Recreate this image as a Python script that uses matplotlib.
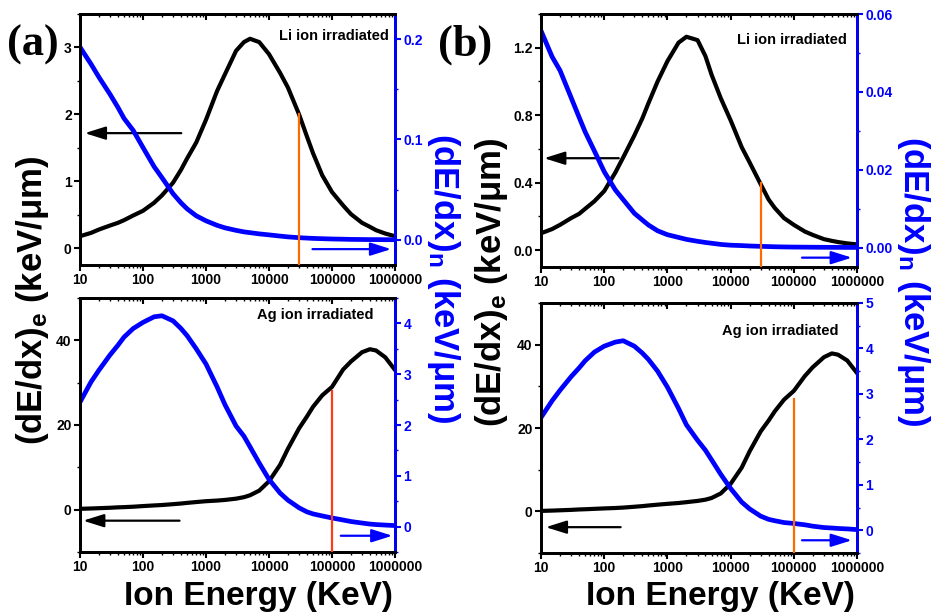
import numpy as np
import matplotlib
matplotlib.use("Agg")
import matplotlib.pyplot as plt
from matplotlib.ticker import FixedLocator, MultipleLocator, LogLocator, NullFormatter, FuncFormatter

plt.rcParams['font.family'] = ['Liberation Sans', 'DejaVu Sans']
plt.rcParams['font.weight'] = 'bold'
plt.rcParams['mathtext.fontset'] = 'custom'
plt.rcParams['mathtext.rm'] = 'Liberation Sans:bold'
plt.rcParams['mathtext.bf'] = 'Liberation Sans:bold'
plt.rcParams['mathtext.it'] = 'Liberation Sans:bold'

# ion energy (keV), same grid for every curve
energy = [10, 15, 20, 30, 40, 50, 70, 100, 150, 200, 300, 400, 500, 700, 1000, 1500, 2000, 3000,
          4000, 5000, 7000, 1e4, 1.5e4, 2e4, 3e4, 4e4, 5e4, 7e4, 1e5, 1.5e5, 2e5, 3e5, 4e5, 5e5,
          7e5, 1e6]

# (a) Li ion: electronic (left axis) / nuclear (right axis)
a_li_elec = [0.18, 0.23, 0.28, 0.34, 0.38, 0.42, 0.49, 0.56, 0.68, 0.79, 0.98, 1.17, 1.34, 1.58,
             1.92, 2.35, 2.60, 2.95, 3.08, 3.13, 3.08, 2.90, 2.62, 2.40, 2.00, 1.67, 1.42, 1.09,
             0.84, 0.64, 0.51, 0.38, 0.32, 0.27, 0.22, 0.18]
a_li_nucl = [0.192, 0.175, 0.162, 0.145, 0.132, 0.121, 0.109, 0.092, 0.073, 0.062, 0.046, 0.037,
             0.031, 0.024, 0.019, 0.0145, 0.012, 0.0095, 0.008, 0.0072, 0.006, 0.005, 0.0038,
             0.003, 0.0022, 0.0018, 0.0015, 0.0012, 0.0009, 0.0007, 0.0005, 0.0004, 0.0003,
             0.0003, 0.0002, 0.0002]
# (a) Ag ion
a_ag_elec = [0.2, 0.28, 0.35, 0.45, 0.55, 0.6, 0.7, 0.85, 1.0, 1.1, 1.3, 1.45, 1.6, 1.8, 2.0, 2.15,
             2.3, 2.6, 2.95, 3.4, 4.5, 6.7, 10.6, 14.4, 19.2, 22.0, 24.3, 27.0, 29.0, 33.1, 35.0,
             37.2, 37.9, 37.6, 36.0, 33.0]
a_ag_nucl = [2.45, 2.85, 3.08, 3.38, 3.57, 3.73, 3.90, 4.02, 4.13, 4.15, 4.05, 3.90, 3.76, 3.50,
             3.20, 2.75, 2.40, 1.98, 1.78, 1.57, 1.25, 0.93, 0.66, 0.52, 0.37, 0.29, 0.25, 0.21,
             0.17, 0.13, 0.10, 0.07, 0.05, 0.04, 0.03, 0.02]

# (b) Li ion
b_li_elec = [0.10, 0.125, 0.15, 0.19, 0.215, 0.245, 0.29, 0.35, 0.46, 0.55, 0.68, 0.78, 0.87, 1.00,
             1.12, 1.23, 1.265, 1.245, 1.15, 1.04, 0.90, 0.77, 0.61, 0.52, 0.39, 0.30, 0.25, 0.19,
             0.15, 0.11, 0.09, 0.065, 0.055, 0.048, 0.04, 0.034]
b_li_nucl = [0.0557, 0.049, 0.0455, 0.0385, 0.0335, 0.0297, 0.0248, 0.0195, 0.0148, 0.0123,
             0.0088, 0.0071, 0.0058, 0.0043, 0.0033, 0.0026, 0.0021, 0.0016, 0.0013, 0.0011,
             0.0008, 0.0006, 0.0005, 0.0004, 0.0003, 0.00025, 0.0002, 0.00015, 0.00012, 0.0001,
             0.00008, 0.00006, 0.00005, 0.00004, 0.00003, 0.00003]
# (b) Ag ion
b_ag_elec = [0.1, 0.18, 0.25, 0.35, 0.45, 0.5, 0.6, 0.7, 0.8, 0.9, 1.1, 1.25, 1.4, 1.6, 1.8, 2.0,
             2.2, 2.5, 2.8, 3.2, 4.3, 6.6, 10.5, 14.4, 19.2, 21.8, 24.0, 26.8, 28.9, 32.5, 34.6,
             37.0, 37.9, 37.6, 36.2, 33.2]
b_ag_nucl = [2.48, 2.85, 3.08, 3.38, 3.57, 3.73, 3.92, 4.05, 4.14, 4.17, 4.05, 3.90, 3.76, 3.50,
             3.15, 2.68, 2.32, 1.98, 1.76, 1.55, 1.23, 0.92, 0.62, 0.47, 0.31, 0.24, 0.21, 0.17,
             0.15, 0.12, 0.09, 0.06, 0.05, 0.04, 0.03, 0.015]

# vertical marker lines (energy, height on left axis)
li_cut = (3e4, 2.0)
li_cut_b = (3e4, 0.40)
ag_cut = (1e5, 28.0)
ag_cut_b = (1e5, 27.0)

xticks = [10, 100, 1000, 10000, 100000, 1000000]

W, H = 938, 615
fig = plt.figure(figsize=(W / 100, H / 100), dpi=100)

def box(x0, y0, x1, y1):
    return [x0 / W, 1 - y1 / H, (x1 - x0) / W, (y1 - y0) / H]

BLUE = '#0000FF'

def panel(rect, elec, nucl, ylim, y2lim, ymaj, ymin, y2maj, y2min, lfmt, rfmt,
          cut, cutcol, title, tpos, larrow, rarrow):
    ax = fig.add_axes(rect)
    ax2 = ax.twinx()
    ax.plot(energy, elec, color='black', lw=3.0, solid_joinstyle='round')
    ax2.plot(energy, nucl, color=BLUE, lw=3.4, solid_joinstyle='round')
    ax.set_xscale('log')
    ax.set_xlim(10, 1e6)
    ax.set_ylim(*ylim)
    ax2.set_ylim(*y2lim)
    ax.xaxis.set_major_locator(FixedLocator(xticks))
    ax.xaxis.set_major_formatter(FuncFormatter(lambda v, p: '%d' % round(v)))
    ax.xaxis.set_minor_locator(LogLocator(base=10, subs=np.arange(2, 10)))
    ax.xaxis.set_minor_formatter(NullFormatter())
    ax.yaxis.set_major_locator(MultipleLocator(ymaj))
    ax.yaxis.set_minor_locator(MultipleLocator(ymin))
    ax.yaxis.set_major_formatter(FuncFormatter(lambda v, p: lfmt % v))
    ax2.yaxis.set_major_locator(MultipleLocator(y2maj))
    ax2.yaxis.set_minor_locator(MultipleLocator(y2min))
    ax2.yaxis.set_major_formatter(FuncFormatter(lambda v, p: rfmt % v))
    for a in (ax, ax2):
        for s in a.spines.values():
            s.set_linewidth(2.0)
    ax2.spines['right'].set_color(BLUE)
    ax.tick_params(axis='both', which='major', direction='out', length=4, width=1.5,
                   labelsize=10, pad=2)
    ax.tick_params(axis='both', which='minor', direction='out', length=2.5, width=1.0)
    # mirrored ticks on the top edge, pointing inward
    top = ax.secondary_xaxis('top')
    top.xaxis.set_major_locator(FixedLocator(xticks))
    top.xaxis.set_minor_locator(LogLocator(base=10, subs=np.arange(2, 10)))
    top.tick_params(which='major', direction='in', length=4, width=1.5, labeltop=False)
    top.tick_params(which='minor', direction='in', length=2.5, width=1.0, labeltop=False)
    top.spines['top'].set_linewidth(2.0)
    ax2.tick_params(axis='y', which='major', direction='out', length=4, width=1.5,
                    labelsize=10, pad=2, colors=BLUE)
    ax2.tick_params(axis='y', which='minor', direction='out', length=2.5, width=1.0, colors=BLUE)
    for lab in ax.get_xticklabels() + ax.get_yticklabels() + ax2.get_yticklabels():
        lab.set_fontweight('bold')
    y_top = ax2.transData.inverted().transform(ax.transData.transform(cut))[1]
    ax2.plot([cut[0], cut[0]], [y2lim[0], y_top], color=cutcol, lw=1.6, zorder=5)
    ax.text(tpos[0], tpos[1], title, transform=ax.transAxes, ha='right', va='center',
            fontsize=10.5, fontweight='bold')
    ax.annotate('', xy=larrow[1], xytext=larrow[0],
                arrowprops=dict(arrowstyle='-|>,head_length=0.7,head_width=0.22',
                                color='black', lw=1.6, mutation_scale=18, shrinkA=0, shrinkB=0))
    ax2.annotate('', xy=rarrow[1], xytext=rarrow[0],
                 arrowprops=dict(arrowstyle='-|>,head_length=0.7,head_width=0.22',
                                 color=BLUE, lw=1.6, mutation_scale=18, shrinkA=0, shrinkB=0))
    return ax, ax2

panel(box(80, 14, 395, 265), a_li_elec, a_li_nucl, (-0.25, 3.5), (-0.025, 0.225),
      1, 0.5, 0.1, 0.05, '%g', '%.1f', li_cut, '#FF6A00', 'Li ion irradiated', (0.981, 0.912),
      ((405, 1.72), (11.9, 1.72)), ((49000, -0.0092), (870000, -0.0092)))
panel(box(80, 298, 395, 552), a_ag_elec, a_ag_nucl, (-10, 50), (-0.5, 4.5),
      20, 10, 1, 0.5, '%g', '%g', ag_cut, '#FF3A1A', 'Ag ion irradiated', (0.933, 0.933),
      ((380, -2.6), (11.2, -2.6)), ((138000, -0.18), (910000, -0.18)))
panel(box(541, 14, 857, 267), b_li_elec, b_li_nucl, (-0.1, 1.4), (-0.005, 0.06),
      0.4, 0.2, 0.02, 0.01, '%.1f', '%.2f', li_cut_b, '#FF6A00', 'Li ion irradiated', (0.968, 0.897),
      ((170, 0.545), (11.2, 0.545)), ((135000, -0.0026), (830000, -0.0026)))
panel(box(541, 303, 857, 553), b_ag_elec, b_ag_nucl, (-10, 50), (-0.5, 5),
      20, 10, 1, 0.5, '%g', '%g', ag_cut_b, '#FF6A00', 'Ag ion irradiated', (0.940, 0.887),
      ((182, -3.8), (11.9, -3.8)), ((135000, -0.22), (830000, -0.22)))

ylab_e = '(dE/dx)$_\\mathrm{e}$ (keV/\u03bcm)'
ylab_n = '(dE/dx)$_\\mathrm{n}$ (keV/\u03bcm)'
fig.text(33 / W, 1 - 300 / H, ylab_e, rotation=90, ha='center', va='center',
         fontsize=25, fontweight='bold')
fig.text(491 / W, 1 - 282 / H, ylab_e, rotation=90, ha='center', va='center',
         fontsize=25, fontweight='bold')
fig.text(443 / W, 1 - 278 / H, ylab_n, rotation=-90, ha='center', va='center',
         fontsize=25, fontweight='bold', color=BLUE)
fig.text(913 / W, 1 - 281 / H, ylab_n, rotation=-90, ha='center', va='center',
         fontsize=25, fontweight='bold', color=BLUE)
fig.text(258 / W, 1 - 597 / H, 'Ion Energy (KeV)', ha='center', va='center',
         fontsize=24, fontweight='bold')
fig.text(720 / W, 1 - 597 / H, 'Ion Energy (KeV)', ha='center', va='center',
         fontsize=24, fontweight='bold')
fig.text(33 / W, 1 - 45 / H, '(a)', ha='center', va='center', fontsize=32,
         fontweight='bold', family='Liberation Serif')
fig.text(465 / W, 1 - 45 / H, '(b)', ha='center', va='center', fontsize=32,
         fontweight='bold', family='Liberation Serif')

fig.savefig('out.png', dpi=100)
